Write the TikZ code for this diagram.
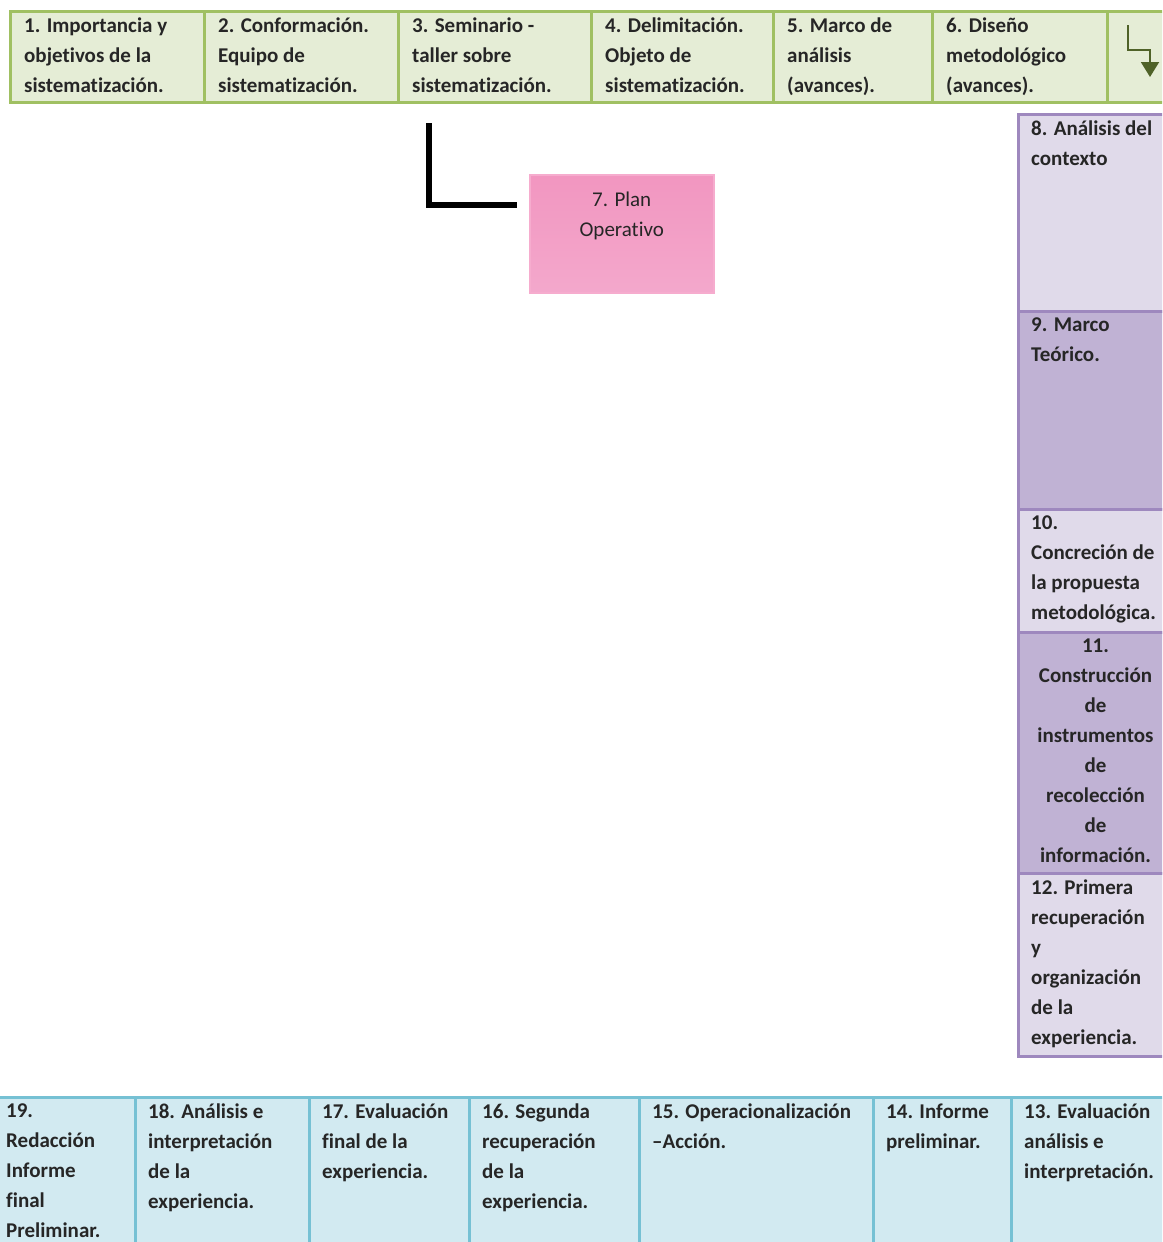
\documentclass[tikz,border=0pt]{standalone}
\usepackage{fontspec}
\setmainfont{Carlito}[Ligatures=NoCommon]
\usetikzlibrary{arrows.meta}

\definecolor{greenfill}{RGB}{229,237,214}
\definecolor{greenline}{RGB}{160,192,98}
\definecolor{lilacfill}{RGB}{224,218,234}
\definecolor{lilacdark}{RGB}{192,178,212}
\definecolor{lilacline}{RGB}{158,136,190}
\definecolor{bluefill}{RGB}{210,234,241}
\definecolor{blueline}{RGB}{118,193,212}
\definecolor{pinktop}{RGB}{242,150,192}
\definecolor{pinkbot}{RGB}{243,168,204}
\definecolor{pinkline}{RGB}{246,172,206}
\definecolor{ink}{RGB}{38,38,38}
\definecolor{arrowgreen}{RGB}{79,98,40}

\newcommand{\cellfont}{\fontsize{21}{30}\selectfont\bfseries}

\tikzset{
    box/.style 2 args={draw, line width=3pt, anchor=north west, inner sep=0pt,
        minimum width=#1pt, minimum height=#2pt},
    topbox/.style={box={#1}{91}, draw=greenline, fill=greenfill},
    lilacbox/.style={box={154}{#1}, draw=lilacline, fill=lilacfill},
    lowbox/.style={box={#1}{170}, draw=blueline, fill=bluefill},
    txt/.style={anchor=north west, inner sep=0pt, align=left, font=\cellfont, text=ink},
}

\begin{document}
\begin{tikzpicture}[x=1pt, y=-1pt]
    \useasboundingbox (0,0) rectangle (1162,1242);
    \clip (0,0) rectangle (1162,1242);

    % upper row
    \node[topbox=194] (s1) at (9,10) {};
    \node[topbox=194] (s2) at (203,10) {};
    \node[topbox=193] (s3) at (397,10) {};
    \node[topbox=182] (s4) at (590,10) {};
    \node[topbox=159] (s5) at (772,10) {};
    \node[topbox=175] (s6) at (931,10) {};
    \node[topbox=65] (sarrow) at (1106,10) {};

    \node[txt] (t1) at ([xshift=15pt, yshift=-7.5pt]s1.north west) {1. Importancia y\\objetivos de la\\sistematización.};
    \node[txt] (t2) at ([xshift=15pt, yshift=-7.5pt]s2.north west) {2. Conformación.\\Equipo de\\sistematización.};
    \node[txt] (t3) at ([xshift=15pt, yshift=-7.5pt]s3.north west) {3. Seminario -\\taller sobre\\sistematización.};
    \node[txt] (t4) at ([xshift=15pt, yshift=-7.5pt]s4.north west) {4. Delimitación.\\Objeto de\\sistematización.};
    \node[txt] (t5) at ([xshift=15pt, yshift=-7.5pt]s5.north west) {5. Marco de\\análisis\\(avances).};
    \node[txt] (t6) at ([xshift=15pt, yshift=-7.5pt]s6.north west) {6. Diseño\\metodológico\\(avances).};

    \coordinate (turn start) at (1128,25);
    \coordinate (turn tip) at (1150,77);
    \draw[arrowgreen, line width=2pt, -{Triangle[width=18pt, length=15pt]}]
        (turn start) -- ++(0,25) -| (turn tip);

    % plan
    \coordinate (bend top) at (429,123);
    \coordinate (bend end) at (517,205);
    \draw[line width=6.5pt] (bend top) |- (bend end);

    \node[box={184}{118}, line width=1.5pt, draw=pinkline, top color=pinktop, bottom color=pinkbot] (s7) at (529,174) {};
    \node[txt, anchor=north, align=center, font=\fontsize{21}{30}\selectfont] (t7)
        at ([yshift=-18pt]s7.north) {7. Plan\\Operativo};

    % right column
    \node[lilacbox=197] (s8) at (1017,113) {};
    \node[lilacbox=198, fill=lilacdark] (s9) at (1017,310) {};
    \node[lilacbox=123] (s10) at (1017,508) {};
    \node[lilacbox=241, fill=lilacdark] (s11) at (1017,631) {};
    \node[lilacbox=183] (s12) at (1017,872) {};

    \node[txt] (t8) at ([xshift=14pt, yshift=-7.5pt]s8.north west) {8. Análisis del\\contexto};
    \node[txt] (t9) at ([xshift=14pt, yshift=-7.5pt]s9.north west) {9. Marco\\Teórico.};
    \node[txt] (t10) at ([xshift=14pt, yshift=-7.5pt]s10.north west) {10.\\Concreción de\\la propuesta\\metodológica.};
    \node[txt, anchor=north, align=center] (t11) at ([yshift=-7.5pt]s11.north) {11.\\Construcción\\de\\instrumentos\\de\\recolección\\de\\información.};
    \node[txt] (t12) at ([xshift=14pt, yshift=-7.5pt]s12.north west) {12. Primera\\recuperación\\y\\organización\\de la\\experiencia.};

    % lower row
    \node[lowbox=143] (s19) at (-9,1096) {};
    \node[lowbox=174] (s18) at (134,1096) {};
    \node[lowbox=160] (s17) at (308,1096) {};
    \node[lowbox=170] (s16) at (468,1096) {};
    \node[lowbox=234] (s15) at (638,1096) {};
    \node[lowbox=138] (s14) at (872,1096) {};
    \node[lowbox=161] (s13) at (1010,1096) {};

    \node[txt] (t19) at ([xshift=15pt, yshift=-7.5pt]s19.north west) {19.\\Redacción\\Informe\\final\\Preliminar.};
    \node[txt] (t18) at ([xshift=14pt, yshift=-7.5pt]s18.north west) {18. Análisis e\\interpretación\\de la\\experiencia.};
    \node[txt] (t17) at ([xshift=14pt, yshift=-7.5pt]s17.north west) {17. Evaluación\\final de la\\experiencia.};
    \node[txt] (t16) at ([xshift=14pt, yshift=-7.5pt]s16.north west) {16. Segunda\\recuperación\\de la\\experiencia.};
    \node[txt] (t15) at ([xshift=14pt, yshift=-7.5pt]s15.north west) {15. Operacionalización\\–Acción.};
    \node[txt] (t14) at ([xshift=14pt, yshift=-7.5pt]s14.north west) {14. Informe\\preliminar.};
    \node[txt] (t13) at ([xshift=14pt, yshift=-7.5pt]s13.north west) {13. Evaluación\\análisis e\\interpretación.};
\end{tikzpicture}
\end{document}
